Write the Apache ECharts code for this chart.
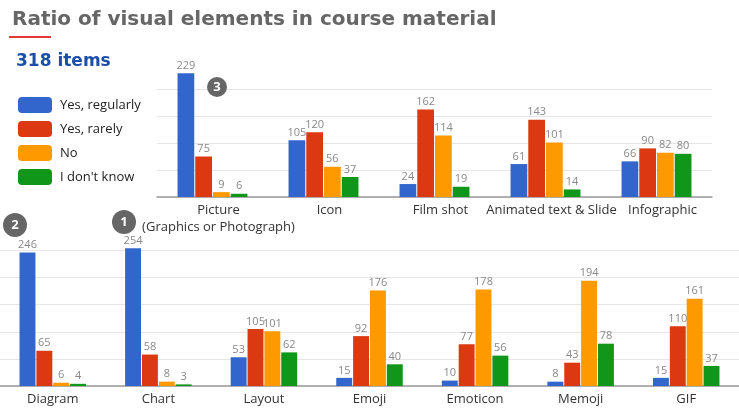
<!DOCTYPE html>
<html lang="en">
<head>
    <meta charset="utf-8" />
    <title>Ratio of visual elements</title>
    <script type="text/javascript" src="https://cdn.jsdelivr.net/npm/echarts@6/dist/echarts.min.js"></script>
</head>
<body style="margin:0;background-color:#fff">
    <div id="container" style="width:739px;height:408px;"></div>
<script type="text/javascript">
    // data
    var seriesNames = ['Yes, regularly', 'Yes, rarely', 'No', "I don't know"];
    var seriesColors = ['#3366cc', '#dc3912', '#ff9900', '#109618'];

    var topCats = ['Picture\n(Graphics or Photograph)', 'Icon', 'Film shot', 'Animated text & Slide', 'Infographic'];
    var topRegular = [229, 105, 24, 61, 66];
    var topRarely = [75, 120, 162, 143, 90];
    var topNo = [9, 56, 114, 101, 82];
    var topUnknown = [6, 37, 19, 14, 80];

    var bottomCats = ['Diagram', 'Chart', 'Layout', 'Emoji', 'Emoticon', 'Memoji', 'GIF'];
    var bottomRegular = [246, 254, 53, 15, 10, 8, 15];
    var bottomRarely = [65, 58, 105, 92, 77, 43, 110];
    var bottomNo = [6, 8, 101, 176, 178, 194, 161];
    var bottomUnknown = [4, 3, 62, 40, 56, 78, 37];

    var yTicks = [0, 50, 100, 150, 200, 250];

    var dom = document.getElementById("container");
    var myChart = echarts.init(dom);
    var font = 'Open Sans';
    var headFont = 'DejaVu Sans';

    function makeBar(name, data, idx, color) {
        return {
            name: name,
            type: 'bar',
            xAxisIndex: idx,
            yAxisIndex: idx,
            data: data,
            barGap: '6%',
            barCategoryGap: '37%',
            itemStyle: { color: color },
            label: {
                show: true,
                position: 'top',
                distance: 2,
                color: '#888',
                fontSize: 11,
                fontFamily: font
            }
        };
    }

    var topLists = [topRegular, topRarely, topNo, topUnknown];
    var bottomLists = [bottomRegular, bottomRarely, bottomNo, bottomUnknown];
    var series = [];
    for (var i = 0; i < seriesNames.length; i++) {
        series.push(makeBar(seriesNames[i], topLists[i], 0, seriesColors[i]));
    }
    for (var j = 0; j < seriesNames.length; j++) {
        series.push(makeBar(seriesNames[j], bottomLists[j], 1, seriesColors[j]));
    }

    // circled markers (annotations)
    function marker(x, y, r, txt) {
        return [
            { type: 'circle', shape: { cx: x, cy: y, r: r }, style: { fill: '#666' }, z: 10 },
            {
                type: 'text', x: x, y: y, z: 11,
                style: {
                    text: txt, fill: '#fff', font: 'bold 13px ' + font,
                    textAlign: 'center', textVerticalAlign: 'middle'
                }
            }
        ];
    }

    var graphics = [
        { type: 'rect', shape: { x: 9, y: 36, width: 42, height: 2 }, style: { fill: '#e53935' } }
    ].concat(marker(217, 87, 10, '3'), marker(15, 225, 12, '2'), marker(124, 222, 12, '1'));

    var axisLabel = { color: '#333', fontSize: 13, fontFamily: font, fontWeight: 500, margin: 5, lineHeight: 17, interval: 0 };
    var topAxisLabel = Object.assign({}, axisLabel, { padding: [0, 0, 0, 12] });

    option = {
        backgroundColor: '#fff',
        animation: false,
        title: [{
            text: 'Ratio of visual elements in course material',
            left: 7,
            top: 5,
            textStyle: { color: '#666', fontSize: 20, fontWeight: 'bold', fontFamily: headFont }
        }, {
            text: '318 items',
            left: 11,
            top: 48,
            textStyle: { color: '#1c4fa8', fontSize: 17, fontWeight: 'bold', fontFamily: headFont }
        }],
        legend: {
            orient: 'vertical',
            left: 13,
            top: 92,
            icon: 'roundRect',
            itemWidth: 34,
            itemHeight: 16,
            itemGap: 8,
            data: seriesNames,
            textStyle: { color: '#222', fontSize: 13, fontFamily: font, fontWeight: 500, padding: [0, 0, 0, 3] }
        },
        graphic: graphics,
        grid: [
            { left: 157, right: 27, top: 62, bottom: 211 },
            { left: -13, right: -4, top: 245, bottom: 21 }
        ],
        xAxis: [{
            type: 'category', gridIndex: 0, data: topCats,
            axisTick: { show: false },
            axisLine: { lineStyle: { color: '#999', width: 1.5 } },
            axisLabel: topAxisLabel
        }, {
            type: 'category', gridIndex: 1, data: bottomCats,
            axisTick: { show: false },
            axisLine: { lineStyle: { color: '#999', width: 1.5 } },
            axisLabel: axisLabel
        }],
        yAxis: [{
            type: 'value', gridIndex: 0, min: yTicks[0], max: yTicks[5], interval: 50,
            axisLabel: { show: false }, axisLine: { show: false }, axisTick: { show: false },
            splitLine: { lineStyle: { color: ['#e6e6e6', '#e6e6e6', '#e6e6e6', '#e6e6e6', '#e6e6e6', 'rgba(0,0,0,0)'] } }
        }, {
            type: 'value', gridIndex: 1, min: yTicks[0], max: 260, interval: 50,
            axisLabel: { show: false }, axisLine: { show: false }, axisTick: { show: false },
            splitLine: { lineStyle: { color: ['#e6e6e6', '#e6e6e6', '#e6e6e6', '#e6e6e6', '#e6e6e6', '#e6e6e6', 'rgba(0,0,0,0)'] } }
        }],
        series: series
    };
    if (option && typeof option === "object") {
        myChart.setOption(option, true);
    }
</script>
</body>
</html>
